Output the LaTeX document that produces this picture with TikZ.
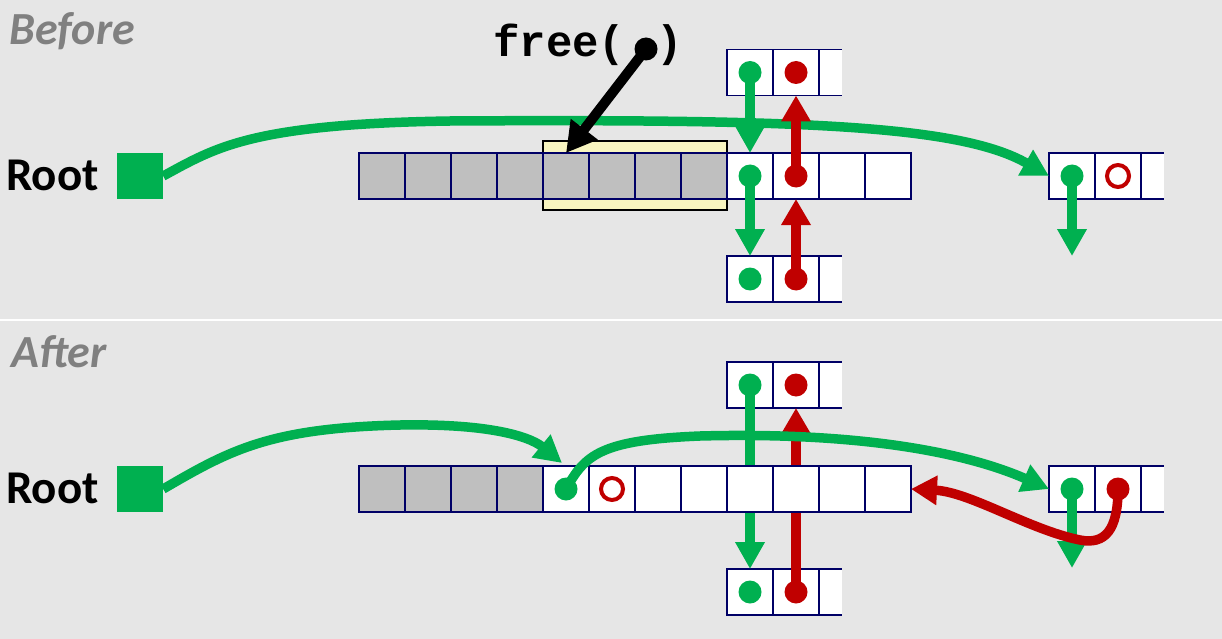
\documentclass[tikz,border=0pt]{standalone}
\usepackage{fontspec}
\setmainfont{Carlito}
\newfontfamily\monof{Liberation Mono}
\usetikzlibrary{arrows.meta}
\definecolor{bg}{RGB}{230,230,230}
\definecolor{gr}{RGB}{0,176,80}
\definecolor{rd}{RGB}{192,0,0}
\definecolor{cellgray}{RGB}{191,191,191}
\definecolor{navy}{RGB}{0,0,102}
\definecolor{lyellow}{RGB}{248,245,192}
\definecolor{labgray}{RGB}{128,128,128}
\newcommand\pcell[2]{%
  \fill[white] ({#1},{#2-23}) rectangle ({#1+23},{#2+23});
  \draw[draw=navy,line width=1.3pt] ({#1},{#2-23}) -- ({#1+23},{#2-23}) ({#1},{#2+23}) -- ({#1+23},{#2+23});}
\tikzset{
 cell/.style={draw=navy, line width=1.3pt, fill=white, minimum width=46pt, minimum height=46pt, inner sep=0pt, outer sep=0pt},
 gcell/.style={cell, fill=cellgray},
 gdot/.style={circle, fill=gr, minimum size=23pt, inner sep=0pt},
 rdot/.style={circle, fill=rd, minimum size=23pt, inner sep=0pt},
 rring/.style={circle, draw=rd, line width=4pt, minimum size=22pt, inner sep=0pt},
 garrow/.style={draw=gr, line width=9.5pt, -{Triangle[width=28pt,length=27pt]}},
 rarrow/.style={draw=rd, line width=9.5pt, -{Triangle[width=28pt,length=26pt]}},
 rootsq/.style={fill=gr, minimum width=46pt, minimum height=46pt, inner sep=0pt},
 rootlab/.style={font=\bfseries\fontsize{47}{47}\selectfont, anchor=base west, inner sep=0pt},
 title/.style={font=\bfseries\itshape\fontsize{46}{46}\selectfont, text=labgray, anchor=base west, inner sep=0pt},
 codefont/.style={font=\monof\bfseries\fontsize{44}{44}\selectfont, anchor=base west, inner sep=0pt},
}
\begin{document}
\begin{tikzpicture}[x=1pt,y=-1pt]
\fill[bg] (0,0) rectangle (1222,639);
\useasboundingbox (0,0) rectangle (1222,639);
\draw[white, line width=2pt] (0,320) -- (1222,320);

% ---------------- Before ----------------
\node[title] (tb) at (9,45) {Before};
\node[rootlab] (rl1) at (6,190) {Root};
\node[rootsq] (root1) at (140,176) {};
\node[draw=black, line width=1.3pt, fill=lyellow, minimum width=184pt, minimum height=69pt, inner sep=0pt] (hl) at (635,175.5) {};
\pcell{819}{72.5}
\pcell{819}{279}
\pcell{1141}{176}
\node[cell] (bt1) at (750,72.5) {};
\node[cell] (bt2) at (796,72.5) {};
\node[cell] (bb1) at (750,279) {};
\node[cell] (bb2) at (796,279) {};
\node[cell] (br1) at (1072,176) {};
\node[cell] (br2) at (1118,176) {};
\foreach \i in {1,...,8} \node[gcell] (bm\i) at ({382+46*(\i-1)},176) {};
\foreach \i in {9,...,12} \node[cell] (bm\i) at ({382+46*(\i-1)},176) {};
\coordinate (bdown) at (1072,256);

\draw[garrow] (root1.east) .. controls (215,148) and (250,124) .. (450,121) .. controls (800,119) and (960,125) .. (br1.west);
\draw[garrow] (bt1.center) -- (bm9.north);
\draw[rarrow] (bm10.center) -- (bt2.south);
\draw[garrow] (bm9.center) -- (bb1.north);
\draw[rarrow] (bb2.center) -- (bm10.south);
\draw[garrow] (br1.center) -- (bdown);
\foreach \n in {bt1,bm9,bb1,br1} \node[gdot] at (\n) {};
\foreach \n in {bt2,bm10,bb2} \node[rdot] at (\n) {};
\node[rring] at (br2) {};

\node[codefont] (free) at (493,57) {free(};
\node[codefont] (freeclose) at (656,57) {)};
\node[circle, fill=black, minimum size=23pt, inner sep=0pt] (fdot) at (646,49) {};
\draw[line width=10pt, -{Triangle[width=32pt,length=30pt]}] (fdot.center) -- (bm5.north);

% ---------------- After ----------------
\node[title] (ta) at (11,367) {After};
\node[rootlab] (rl2) at (6,503) {Root};
\node[rootsq] (root2) at (140,489) {};
\pcell{819}{385}
\pcell{819}{592}
\pcell{1141}{489}
\node[cell] (at1) at (750,385) {};
\node[cell] (at2) at (796,385) {};
\node[cell] (ab1) at (750,592) {};
\node[cell] (ab2) at (796,592) {};
\node[cell] (ar1) at (1072,489) {};
\node[cell] (ar2) at (1118,489) {};
\coordinate (atip) at (562,463);
\coordinate (adown) at (1072,568);

\draw[garrow] (at1.center) -- (ab1.north);
\draw[rarrow] (ab2.center) -- (at2.south);
\foreach \i in {1,...,4} \node[gcell] (am\i) at ({382+46*(\i-1)},489) {};
\foreach \i in {5,...,12} \node[cell] (am\i) at ({382+46*(\i-1)},489) {};

\draw[garrow] (root2.east) .. controls (230,450) and (270,428) .. (400,425) .. controls (515,423) and (540,445) .. (atip);
\draw[garrow] (am5.center) .. controls (585,455) and (600,440) .. (700,436) .. controls (850,432) and (960,450) .. (ar1.west);
\draw[garrow] (ar1.center) -- (adown);
\draw[rarrow] (ar2.center) .. controls (1118,530) and (1105,545) .. (1080,540) .. controls (1030,530) and (970,492) .. (am12.east);
\foreach \n in {at1,am5,ab1,ar1} \node[gdot] at (\n) {};
\foreach \n in {at2,ab2,ar2} \node[rdot] at (\n) {};
\node[rring] at (am6) {};
\end{tikzpicture}
\end{document}
